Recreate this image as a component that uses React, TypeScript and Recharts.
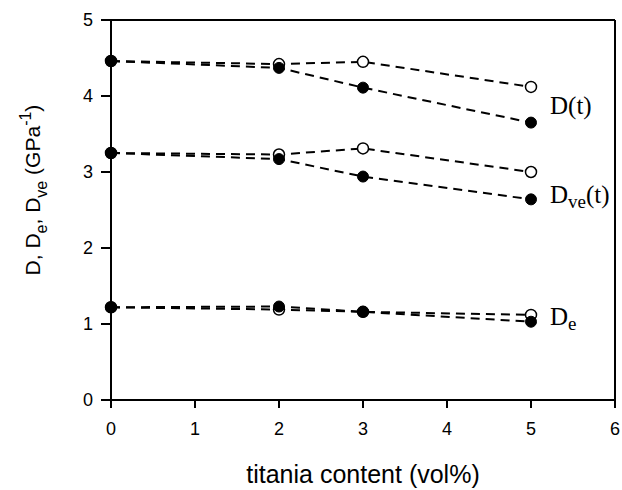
import { LineChart, Line, XAxis, YAxis, LabelList, ReferenceLine } from 'recharts';

const content = [0, 2, 3, 5];
const dOpen = [4.46, 4.42, 4.45, 4.12];
const dFilled = [4.46, 4.37, 4.11, 3.65];
const dveOpen = [3.25, 3.23, 3.31, 3.0];
const dveFilled = [3.25, 3.17, 2.94, 2.64];
const deOpen = [1.22, 1.19, 1.16, 1.12];
const deFilled = [1.22, 1.23, 1.16, 1.03];
const xTicks = [0, 1, 2, 3, 4, 5, 6];
const yTicks = [0, 1, 2, 3, 4, 5];

const data = content.map((x, i) => ({
  x,
  dOpen: dOpen[i],
  dFilled: dFilled[i],
  dveOpen: dveOpen[i],
  dveFilled: dveFilled[i],
  deOpen: deOpen[i],
  deFilled: deFilled[i],
}));

const serif = '"Liberation Serif", "Times New Roman", serif';
const sans = '"Liberation Sans", Arial, sans-serif';

const openDot = { r: 5.5, fill: '#fff', stroke: '#000', strokeWidth: 1.5, strokeDasharray: 'none' };
const filledDot = { r: 5.5, fill: '#000', stroke: '#000', strokeWidth: 1, strokeDasharray: 'none' };

function seriesLabel(name: string, sub: string, tail: string, dy: number) {
  return (props: any) => {
    if (props.index !== content.length - 1) return null;
    return (
      <text x={props.x + 19} y={props.y + dy} fontFamily={serif} fontSize={25} fill="#000">
        {name}
        {sub && (
          <tspan fontSize={19} dy={5}>
            {sub}
          </tspan>
        )}
        {tail && <tspan dy={sub ? -5 : 0}>{tail}</tspan>}
      </text>
    );
  };
}

function YTitle() {
  return (
    <text
      transform="translate(40,190) rotate(-90)"
      textAnchor="middle"
      fontFamily={sans}
      fontSize={21}
      fill="#000"
    >
      D, D
      <tspan fontSize={16} dy={7}>e</tspan>
      <tspan dy={-7}>, D</tspan>
      <tspan fontSize={16} dy={7}>ve</tspan>
      <tspan dy={-7}> (GPa</tspan>
      <tspan fontSize={16} dy={-9}>-1</tspan>
      <tspan dy={9}>)</tspan>
    </text>
  );
}

const lineProps = {
  type: 'linear' as const,
  stroke: '#000',
  strokeWidth: 2,
  strokeDasharray: '9 6',
  isAnimationActive: false,
};

export default function App() {
  return (
    <div style={{ position: 'absolute', left: 0, top: 0, background: '#fff' }}>
      <LineChart width={622} height={490} data={data} margin={{ top: 20, right: 7, left: 0, bottom: 0 }}>
        <XAxis
          dataKey="x"
          type="number"
          domain={[0, 6]}
          ticks={xTicks}
          height={90}
          tickSize={8}
          tickMargin={14}
          stroke="#000"
          strokeWidth={2}
          tick={{ fill: '#000', fontSize: 18, fontFamily: sans }}
          label={{ value: 'titania content (vol%)', position: 'insideBottom', offset: 7, fill: '#000', fontSize: 25, fontFamily: sans }}
        />
        <YAxis
          type="number"
          domain={[0, 5]}
          ticks={yTicks}
          width={111}
          tickSize={10}
          tickMargin={8}
          stroke="#000"
          strokeWidth={2}
          tick={{ fill: '#000', fontSize: 18, fontFamily: sans }}
          label={{ content: () => <YTitle /> }}
        />
        <ReferenceLine y={5} stroke="#000" strokeWidth={2} />
        <ReferenceLine x={6} stroke="#000" strokeWidth={2} />
        <Line {...lineProps} dataKey="dOpen" dot={openDot} />
        <Line {...lineProps} dataKey="dFilled" dot={filledDot}>
          <LabelList dataKey="dFilled" content={seriesLabel('D(t)', '', '', -9)} />
        </Line>
        <Line {...lineProps} dataKey="dveOpen" dot={openDot} />
        <Line {...lineProps} dataKey="dveFilled" dot={filledDot}>
          <LabelList dataKey="dveFilled" content={seriesLabel('D', 've', '(t)', 4)} />
        </Line>
        <Line {...lineProps} dataKey="deOpen" dot={openDot} />
        <Line {...lineProps} dataKey="deFilled" dot={filledDot}>
          <LabelList dataKey="deFilled" content={seriesLabel('D', 'e', '', 3)} />
        </Line>
      </LineChart>
    </div>
  );
}
